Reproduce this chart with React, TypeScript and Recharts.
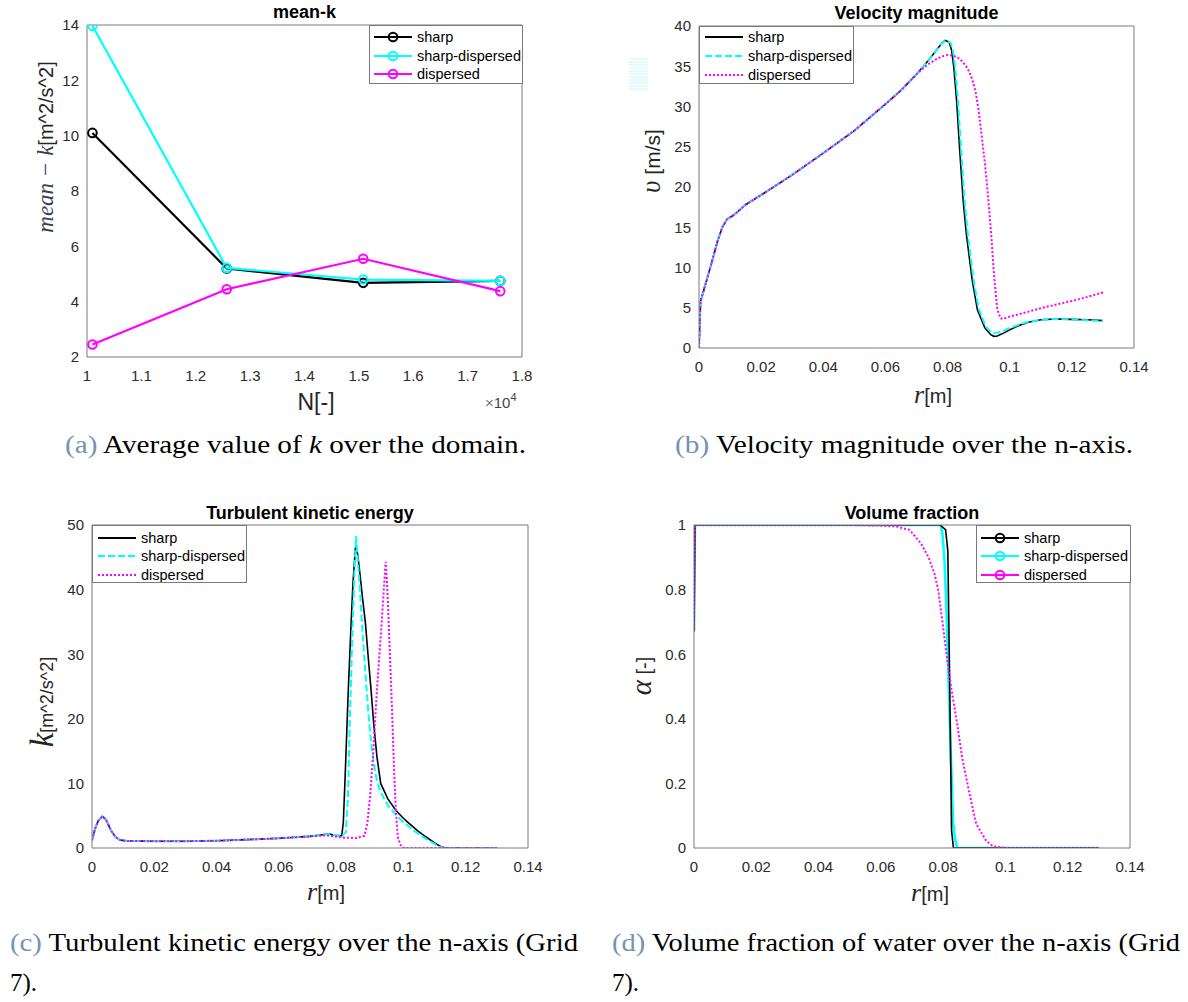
import React from 'react';
import { LineChart, Line, XAxis, YAxis, Legend } from 'recharts';

// ---------- (a) mean k versus number of cells ----------
const gridCells = [10100, 12570, 15080, 17600];
const meanKSharp = [10.1, 5.2, 4.68, 4.75];
const meanKSharpDisp = [13.97, 5.22, 4.8, 4.75];
const meanKDisp = [2.45, 4.45, 5.55, 4.38];
const gridTicks = [10000, 11000, 12000, 13000, 14000, 15000, 16000, 17000, 18000];
const meanKTicks = [2, 4, 6, 8, 10, 12, 14];

// ---------- (b) velocity magnitude along r ----------
const velRiseR = [0, 0.0005, 0.002, 0.004, 0.006, 0.0075, 0.009, 0.0115, 0.015, 0.02, 0.03, 0.04, 0.05, 0.06, 0.065, 0.07];
const velRise = [0, 5.8, 7.8, 10.5, 13.3, 15.0, 16.0, 16.6, 17.8, 19.0, 21.5, 24.2, 27.0, 30.3, 32.0, 34.0];
const velSharpR = [0.072, 0.074, 0.076, 0.078, 0.0792, 0.0805, 0.0813, 0.082, 0.0829, 0.0839, 0.085, 0.086, 0.0879, 0.0896, 0.092, 0.0939, 0.0949, 0.096, 0.098, 0.1, 0.103, 0.106, 0.11, 0.115, 0.12, 0.125, 0.13];
const velSharp = [34.9, 35.8, 36.8, 37.8, 38.2, 38.0, 37.0, 34.9, 30.8, 24.6, 18.4, 14.3, 8.5, 4.75, 2.5, 1.65, 1.45, 1.5, 1.85, 2.25, 2.8, 3.2, 3.5, 3.6, 3.55, 3.5, 3.4];
const velSharpDispR = [0.072, 0.074, 0.076, 0.078, 0.0795, 0.081, 0.0818, 0.0825, 0.0834, 0.0844, 0.0855, 0.0865, 0.0883, 0.09, 0.0922, 0.094, 0.095, 0.096, 0.098, 0.1, 0.105, 0.11, 0.115, 0.12, 0.125, 0.13];
const velSharpDisp = [34.9, 35.8, 36.8, 37.8, 38.2, 37.9, 36.8, 34.6, 30.5, 24.4, 18.2, 14.2, 8.6, 4.9, 2.7, 1.95, 1.85, 1.9, 2.15, 2.5, 3.15, 3.5, 3.6, 3.55, 3.45, 3.35];
const velDispR = [0.072, 0.074, 0.076, 0.078, 0.08, 0.082, 0.084, 0.086, 0.087, 0.088, 0.089, 0.09, 0.091, 0.092, 0.093, 0.094, 0.095, 0.096, 0.097, 0.0978, 0.1, 0.105, 0.11, 0.115, 0.12, 0.125, 0.13];
const velDisp = [34.7, 35.3, 35.8, 36.2, 36.4, 36.3, 35.9, 35.0, 34.3, 33.3, 31.9, 29.5, 26.3, 23.0, 19.0, 14.3, 8.8, 4.8, 3.7, 3.6, 3.9, 4.4, 4.95, 5.4, 5.85, 6.35, 6.9];
const velTicks = [0, 5, 10, 15, 20, 25, 30, 35, 40];

// ---------- (c) turbulent kinetic energy along r ----------
const tkeBaseR = [0, 0.001, 0.002, 0.0033, 0.0045, 0.006, 0.0075, 0.009, 0.011, 0.02, 0.03, 0.04, 0.05, 0.06, 0.07];
const tkeBase = [1.2, 3.0, 4.2, 4.9, 4.4, 2.8, 1.7, 1.25, 1.1, 1.05, 1.05, 1.12, 1.3, 1.5, 1.8];
const tkeSharpR = [0.074, 0.076, 0.078, 0.0802, 0.0807, 0.0812, 0.0823, 0.0832, 0.0838, 0.0846, 0.0853, 0.086, 0.0868, 0.0878, 0.0887, 0.0896, 0.0905, 0.0915, 0.0927, 0.095, 0.0976, 0.1, 0.1018, 0.1045, 0.1073, 0.11, 0.1122, 0.114, 0.12, 0.13];
const tkeSharp = [2.05, 2.2, 1.95, 1.9, 4, 10, 24.5, 34.8, 41, 46.5, 45.5, 42.6, 39, 34.8, 29.5, 24.5, 19, 14.1, 10, 7.6, 5.8, 4.6, 3.8, 2.7, 1.7, 0.8, 0.15, 0, 0, 0];
const tkeSharpDispR = [0.074, 0.076, 0.078, 0.08, 0.0815, 0.0822, 0.0828, 0.0836, 0.0843, 0.0848, 0.0853, 0.086, 0.0868, 0.0878, 0.0888, 0.0898, 0.091, 0.0925, 0.095, 0.098, 0.1, 0.103, 0.106, 0.109, 0.1115, 0.113, 0.12, 0.13];
const tkeSharpDisp = [2.05, 2.15, 2.0, 1.8, 2.4, 8, 20, 33, 43, 48.3, 45, 40, 34, 27, 20.5, 15.5, 11.5, 8.8, 6.6, 4.9, 4.0, 2.8, 1.8, 0.9, 0.2, 0, 0, 0];
const tkeDispR = [0.075, 0.078, 0.081, 0.085, 0.0875, 0.0884, 0.0893, 0.0902, 0.0915, 0.093, 0.0937, 0.0943, 0.0948, 0.0955, 0.0963, 0.097, 0.0976, 0.0982, 0.099, 0.0998, 0.101, 0.12, 0.13];
const tkeDisp = [1.95, 1.8, 1.6, 1.55, 1.9, 3.8, 8, 14, 24.5, 34.8, 40, 44.3, 40.5, 32, 22, 12, 5.5, 1.7, 0.5, 0.05, 0, 0, 0];
const tkeTicks = [0, 10, 20, 30, 40, 50];

// ---------- (d) volume fraction along r ----------
const alphaSharpR = [0, 0.0003, 0.079, 0.0802, 0.0808, 0.0815, 0.0821, 0.0827, 0.0833, 0.1, 0.13];
const alphaSharp = [0.67, 1, 1, 0.99, 0.985, 0.92, 0.51, 0.055, 0, 0, 0];
const alphaSharpDispR = [0, 0.0003, 0.0792, 0.0798, 0.0805, 0.0812, 0.0818, 0.0825, 0.0832, 0.0838, 0.0845, 0.1, 0.13];
const alphaSharpDisp = [0.67, 1, 1, 0.97, 0.88, 0.7, 0.5, 0.28, 0.08, 0.03, 0, 0, 0];
const alphaDispR = [0, 0.0003, 0.05, 0.06, 0.065, 0.0692, 0.0729, 0.0753, 0.0772, 0.0784, 0.0798, 0.0812, 0.0827, 0.0845, 0.0861, 0.0882, 0.0906, 0.0937, 0.096, 0.1, 0.13];
const alphaDisp = [0.67, 1, 1, 0.998, 0.995, 0.985, 0.943, 0.9, 0.85, 0.8, 0.7, 0.59, 0.49, 0.385, 0.28, 0.18, 0.075, 0.024, 0.005, 0, 0];
const alphaTicks = [0, 0.2, 0.4, 0.6, 0.8, 1];

const rTicks = [0, 0.02, 0.04, 0.06, 0.08, 0.1, 0.12, 0.14];
const seriesNames = ['sharp', 'sharp-dispersed', 'dispersed'];

type Pt = { x: number; y: number };
const zip = (xs: number[], ys: number[]): Pt[] => xs.map((x, i) => ({ x, y: ys[i] }));

const SANS = '"Liberation Sans", Arial, Helvetica, sans-serif';
const SERIF = '"Liberation Serif", "Times New Roman", serif';
const AXIS = '#7a7a7a';
const TICK_TEXT = '#2b2b2b';
const BLACK = '#000000';
const CYAN = '#00ffff';
const MAGENTA = '#ff00ff';

type SeriesDef = { name: string; data: Pt[]; color: string; width: number; dash?: string; marker?: boolean };
type LegendDef = { left: number; top: number; width: number; height: number; rows: number[]; lineX: [number, number]; textX: number; styles: { color: string; width: number; dash?: string; marker: boolean }[] };
type Box = { x: number; y: number; w: number; h: number };
type Plot = { l: number; r: number; t: number; b: number };

const YW = 50;
const XH = 40;

function LegendBox({ def }: { def: LegendDef }) {
  return (
    <div style={{ width: def.width, height: def.height, boxSizing: 'border-box', border: `1px solid ${AXIS}`, background: '#fff' }}>
      <svg width={def.width - 2} height={def.height - 2} style={{ display: 'block' }}>
        {def.styles.map((s, i) => {
          const cy = def.rows[i] - 1;
          const mid = (def.lineX[0] + def.lineX[1]) / 2;
          return (
            <g key={i}>
              <line x1={def.lineX[0]} x2={def.lineX[1]} y1={cy} y2={cy} stroke={s.color} strokeWidth={s.width} strokeDasharray={s.dash} />
              {s.marker && <circle cx={mid} cy={cy} r={4.3} fill="none" stroke={s.color} strokeWidth={2} />}
              <text x={def.textX} y={cy + 5} fontFamily={SANS} fontSize={14.5} fill="#000">{seriesNames[i]}</text>
            </g>
          );
        })}
      </svg>
    </div>
  );
}

type PanelProps = {
  box: Box; plot: Plot;
  xDomain: [number, number]; xTicks: number[]; xFmt: (v: number) => string;
  yDomain: [number, number]; yTicks: number[];
  series: SeriesDef[]; legend: LegendDef;
};

function Panel({ box, plot, xDomain, xTicks, xFmt, yDomain, yTicks, series, legend }: PanelProps) {
  const margin = {
    left: plot.l - box.x - YW,
    top: plot.t - box.y,
    right: box.x + box.w - plot.r,
    bottom: box.y + box.h - plot.b - XH,
  };
  const tickStyle = { fill: TICK_TEXT, fontSize: 15, fontFamily: SANS };
  const frame = { stroke: AXIS, strokeWidth: 1 };
  return (
    <div style={{ position: 'absolute', left: box.x, top: box.y }}>
      <LineChart width={box.w} height={box.h} margin={margin}>
        <XAxis type="number" dataKey="x" domain={xDomain} ticks={xTicks} tickFormatter={xFmt} allowDataOverflow
          height={XH} tickSize={0} tickMargin={13} tickLine={false} axisLine={false} tick={tickStyle} interval={0} />
        <YAxis type="number" dataKey="y" domain={yDomain} ticks={yTicks} allowDataOverflow
          width={YW} tickSize={0} tickMargin={8} tickLine={false} axisLine={false} tick={tickStyle} interval={0} />
        <XAxis xAxisId="frameBottom" type="number" domain={xDomain} ticks={xTicks} allowDataOverflow mirror orientation="bottom"
          height={1} tick={false} tickSize={4} tickLine={frame} axisLine={frame} interval={0} />
        <XAxis xAxisId="frameTop" type="number" domain={xDomain} ticks={xTicks} allowDataOverflow mirror orientation="top"
          height={1} tick={false} tickSize={4} tickLine={frame} axisLine={frame} interval={0} />
        <YAxis yAxisId="frameLeft" type="number" domain={yDomain} ticks={yTicks} allowDataOverflow mirror orientation="left"
          width={1} tick={false} tickSize={4} tickLine={frame} axisLine={frame} interval={0} />
        <YAxis yAxisId="frameRight" type="number" domain={yDomain} ticks={yTicks} allowDataOverflow mirror orientation="right"
          width={1} tick={false} tickSize={4} tickLine={frame} axisLine={frame} interval={0} />
        {series.map((s) => (
          <Line key={s.name} name={s.name} data={s.data} dataKey="y" type="linear" stroke={s.color} strokeWidth={s.width}
            strokeDasharray={s.dash}
            dot={s.marker ? { r: 4.3, stroke: s.color, strokeWidth: 2, fill: 'none' } : false}
            activeDot={false} isAnimationActive={false} />
        ))}
        <Legend layout="horizontal" verticalAlign="middle" align="center"
          wrapperStyle={{ left: legend.left - box.x, top: legend.top - box.y, width: legend.width, height: legend.height }}
          content={() => <LegendBox def={legend} />} />
      </LineChart>
    </div>
  );
}

const fmtGrid = (v: number) => String(Math.round(v / 1000) / 10);
const fmtPlain = (v: number) => String(v);

const markerStyles = [
  { color: BLACK, width: 2.2, marker: true },
  { color: CYAN, width: 2.2, marker: true },
  { color: MAGENTA, width: 2.2, marker: true },
];
const lineStyles = [
  { color: BLACK, width: 2, marker: false },
  { color: CYAN, width: 2, dash: '7 3', marker: false },
  { color: MAGENTA, width: 2, dash: '2 2', marker: false },
];

export default function App() {
  const panelA: SeriesDef[] = [
    { name: 'sharp', data: zip(gridCells, meanKSharp), color: BLACK, width: 2.2, marker: true },
    { name: 'sharp-dispersed', data: zip(gridCells, meanKSharpDisp), color: CYAN, width: 2.2, marker: true },
    { name: 'dispersed', data: zip(gridCells, meanKDisp), color: MAGENTA, width: 2.2, marker: true },
  ];
  const panelB: SeriesDef[] = [
    { name: 'sharp', data: zip([...velRiseR, ...velSharpR], [...velRise, ...velSharp]), color: BLACK, width: 1.6 },
    { name: 'sharp-dispersed', data: zip([...velRiseR, ...velSharpDispR], [...velRise, ...velSharpDisp]), color: CYAN, width: 2, dash: '7 3' },
    { name: 'dispersed', data: zip([...velRiseR, ...velDispR], [...velRise, ...velDisp]), color: MAGENTA, width: 2, dash: '2 2' },
  ];
  const panelC: SeriesDef[] = [
    { name: 'sharp', data: zip([...tkeBaseR, ...tkeSharpR], [...tkeBase, ...tkeSharp]), color: BLACK, width: 1.6 },
    { name: 'sharp-dispersed', data: zip([...tkeBaseR, ...tkeSharpDispR], [...tkeBase, ...tkeSharpDisp]), color: CYAN, width: 2, dash: '7 3' },
    { name: 'dispersed', data: zip([...tkeBaseR, ...tkeDispR], [...tkeBase, ...tkeDisp]), color: MAGENTA, width: 2, dash: '2 2' },
  ];
  const panelD: SeriesDef[] = [
    { name: 'sharp-dispersed', data: zip(alphaSharpDispR, alphaSharpDisp), color: CYAN, width: 2.6 },
    { name: 'sharp', data: zip(alphaSharpR, alphaSharp), color: BLACK, width: 1.6 },
    { name: 'dispersed', data: zip(alphaDispR, alphaDisp), color: MAGENTA, width: 2, dash: '2 2' },
  ];

  const titleStyle = { fontFamily: SANS, fontWeight: 700, fontSize: 18, fill: '#000' } as const;

  return (
    <div style={{ position: 'absolute', left: 0, top: 0, width: 1188, height: 1002, background: '#fff', overflow: 'hidden' }}>
      <Panel box={{ x: 0, y: 0, w: 594, h: 490 }} plot={{ l: 87, r: 522, t: 25, b: 357 }}
        xDomain={[10000, 18000]} xTicks={gridTicks} xFmt={fmtGrid} yDomain={[2, 14]} yTicks={meanKTicks}
        series={panelA}
        legend={{ left: 369, top: 25, width: 154, height: 59, rows: [12, 31, 49], lineX: [4, 42], textX: 47, styles: markerStyles }} />
      <Panel box={{ x: 594, y: 0, w: 594, h: 490 }} plot={{ l: 699, r: 1134, t: 26, b: 348 }}
        xDomain={[0, 0.14]} xTicks={rTicks} xFmt={fmtPlain} yDomain={[0, 40]} yTicks={velTicks}
        series={panelB}
        legend={{ left: 699, top: 26, width: 155, height: 58, rows: [11, 30, 49], lineX: [5, 43], textX: 48, styles: lineStyles }} />
      <Panel box={{ x: 0, y: 490, w: 594, h: 512 }} plot={{ l: 92, r: 528, t: 525, b: 848 }}
        xDomain={[0, 0.14]} xTicks={rTicks} xFmt={fmtPlain} yDomain={[0, 50]} yTicks={tkeTicks}
        series={panelC}
        legend={{ left: 92, top: 525, width: 155, height: 58, rows: [13, 31, 50], lineX: [5, 43], textX: 48, styles: lineStyles }} />
      <Panel box={{ x: 594, y: 490, w: 594, h: 512 }} plot={{ l: 694, r: 1130, t: 525, b: 848 }}
        xDomain={[0, 0.14]} xTicks={rTicks} xFmt={fmtPlain} yDomain={[0, 1]} yTicks={alphaTicks}
        series={panelD}
        legend={{ left: 976, top: 525, width: 155, height: 58, rows: [13, 31, 50], lineX: [4, 42], textX: 47, styles: markerStyles }} />

      <svg width={1188} height={1002} style={{ position: 'absolute', left: 0, top: 0, pointerEvents: 'none' }}>
        {/* panel titles */}
        <text x={304.5} y={18} textAnchor="middle" {...titleStyle}>mean-k</text>
        <text x={916.5} y={19} textAnchor="middle" {...titleStyle}>Velocity magnitude</text>
        <text x={310} y={519} textAnchor="middle" {...titleStyle}>Turbulent kinetic energy</text>
        <text x={912} y={519} textAnchor="middle" {...titleStyle}>Volume fraction</text>

        {/* y-axis labels */}
        <text x={53} y={147} transform="rotate(-90 53 147)" textAnchor="middle" fill="#262626">
          <tspan fontFamily={SERIF} fontStyle="italic" fontSize={23} fill="#37414d">mean − k</tspan>
          <tspan fontFamily={SANS} fontSize={20}>[m^2/s^2]</tspan>
        </text>
        <text x={660} y={161} transform="rotate(-90 660 161)" textAnchor="middle" fill="#262626">
          <tspan fontFamily={SERIF} fontStyle="italic" fontSize={27}>υ</tspan>
          <tspan fontFamily={SANS} fontSize={21}> [m/s]</tspan>
        </text>
        <text x={53} y={702} transform="rotate(-90 53 702)" textAnchor="middle" fill="#262626">
          <tspan fontFamily={SERIF} fontStyle="italic" fontSize={33}>k</tspan>
          <tspan fontFamily={SANS} fontSize={18}>[m^2/s^2]</tspan>
        </text>
        <text x={651} y={676} transform="rotate(-90 651 676)" textAnchor="middle" fill="#262626">
          <tspan fontFamily={SERIF} fontStyle="italic" fontSize={29}>α</tspan>
          <tspan fontFamily={SANS} fontSize={20}> [-]</tspan>
        </text>

        {/* x-axis labels */}
        <text x={316} y={410} textAnchor="middle" fontFamily={SANS} fontSize={23} fill="#262626">N[-]</text>
        <text x={485} y={408} fontFamily={SANS} fontSize={15} fill="#444">
          <tspan fill="#777">×</tspan>10<tspan fontSize={11} dy={-7}>4</tspan>
        </text>
        <text x={933} y={403} textAnchor="middle" fill="#262626">
          <tspan fontFamily={SERIF} fontStyle="italic" fontSize={26}>r</tspan>
          <tspan fontFamily={SANS} fontSize={20}>[m]</tspan>
        </text>
        <text x={326} y={900} textAnchor="middle" fill="#262626">
          <tspan fontFamily={SERIF} fontStyle="italic" fontSize={26}>r</tspan>
          <tspan fontFamily={SANS} fontSize={20}>[m]</tspan>
        </text>
        <text x={930} y={901} textAnchor="middle" fill="#262626">
          <tspan fontFamily={SERIF} fontStyle="italic" fontSize={26}>r</tspan>
          <tspan fontFamily={SANS} fontSize={20}>[m]</tspan>
        </text>

        {/* faint cyan streaks left of the velocity axis */}
        <g stroke="#c9f7f7" strokeWidth={1}>
          {[59, 62, 65, 68, 71, 74, 77, 80, 83, 86, 89].map((y) => (
            <line key={y} x1={629} x2={648} y1={y} y2={y} />
          ))}
        </g>

        {/* sub-figure captions */}
        <g fontFamily={SERIF} fontSize={25} fill="#000">
          <text x={65} y={453} textLength={461} lengthAdjust="spacingAndGlyphs">
            <tspan fill="#7394b4">(a)</tspan> Average value of <tspan fontStyle="italic">k</tspan> over the domain.
          </text>
          <text x={675} y={453} textLength={458} lengthAdjust="spacingAndGlyphs">
            <tspan fill="#7394b4">(b)</tspan> Velocity magnitude over the n-axis.
          </text>
          <text x={10} y={951} textLength={568} lengthAdjust="spacingAndGlyphs">
            <tspan fill="#7394b4">(c)</tspan> Turbulent kinetic energy over the n-axis (Grid
          </text>
          <text x={10} y={991}>7).</text>
          <text x={612} y={951} textLength={568} lengthAdjust="spacingAndGlyphs">
            <tspan fill="#7394b4">(d)</tspan> Volume fraction of water over the n-axis (Grid
          </text>
          <text x={612} y={991}>7).</text>
        </g>
      </svg>
    </div>
  );
}
